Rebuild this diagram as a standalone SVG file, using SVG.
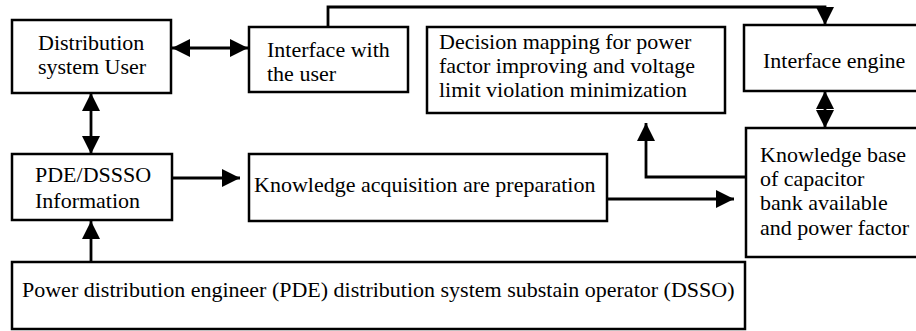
<svg xmlns="http://www.w3.org/2000/svg" width="916" height="331" viewBox="0 0 916 331">
<defs>
<style>
.box{fill:#fff;stroke:#000;stroke-width:2.5}
.c{fill:none;stroke:#000;stroke-width:2.8}
</style>
<marker id="ah" markerUnits="userSpaceOnUse" markerWidth="18" markerHeight="18" refX="18" refY="9" orient="auto-start-reverse">
<path d="M0,0 L18,9 L0,18 Z" fill="#000"/>
</marker>
</defs>
<rect width="916" height="331" fill="#fff"/>
<g id="connectors">
<path class="c" d="M172,48 H248" marker-start="url(#ah)" marker-end="url(#ah)"/>
<path class="c" d="M91,93 V154" marker-start="url(#ah)" marker-end="url(#ah)"/>
<path class="c" d="M328,27 V7 H825 V25" marker-end="url(#ah)"/>
<path class="c" d="M825,91 V128" marker-start="url(#ah)" marker-end="url(#ah)"/>
<path class="c" d="M172,178 H240" marker-end="url(#ah)"/>
<path class="c" d="M607,199 H734" marker-end="url(#ah)"/>
<path class="c" d="M746,177 H646 V123" marker-end="url(#ah)"/>
<path class="c" d="M91,262 V221" marker-end="url(#ah)"/>
</g>
<g font-family="Liberation Serif, Times New Roman, serif" font-size="22" fill="#000">
<g id="user">
<rect class="box" x="12" y="20" width="159" height="73"/>
<text x="38" y="50">Distribution</text>
<text x="38" y="74">system User</text>
</g>
<g id="interface-user">
<rect class="box" x="249" y="27" width="159" height="65"/>
<text x="267" y="57">Interface with</text>
<text x="267" y="81">the user</text>
</g>
<g id="decision">
<rect class="box" x="427" y="27" width="298" height="86"/>
<text x="439" y="49">Decision mapping for power</text>
<text x="439" y="73">factor improving and voltage</text>
<text x="439" y="97">limit violation minimization</text>
</g>
<g id="interface-engine">
<rect class="box" x="744" y="25" width="180" height="66"/>
<text x="763" y="68">Interface engine</text>
</g>
<g id="knowledge-base">
<rect class="box" x="746" y="128" width="180" height="129"/>
<text x="760" y="162">Knowledge base</text>
<text x="760" y="186">of capacitor</text>
<text x="760" y="210">bank available</text>
<text x="760" y="235">and power factor</text>
</g>
<g id="pde-info">
<rect class="box" x="12" y="154" width="160" height="66"/>
<text x="35" y="182">PDE/DSSSO</text>
<text x="35" y="208">Information</text>
</g>
<g id="acquisition">
<rect class="box" x="249" y="154" width="358" height="67"/>
<text x="254" y="192">Knowledge acquisition are preparation</text>
</g>
<g id="operator">
<rect class="box" x="12" y="262" width="733" height="67"/>
<text x="22" y="297">Power distribution engineer (PDE) distribution system substain operator (DSSO)</text>
</g>
</g>
</svg>
